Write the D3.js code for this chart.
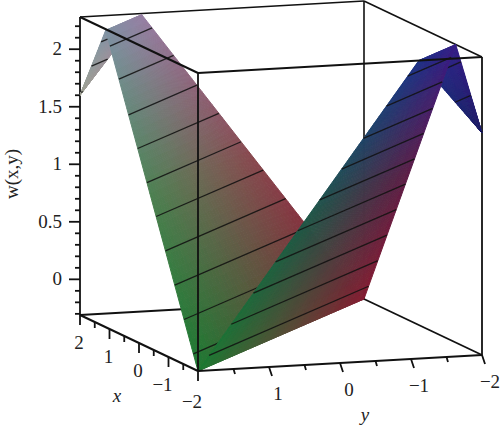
<!DOCTYPE html>
<html><head><meta charset="utf-8">
<style>html,body{margin:0;padding:0;background:#fff;overflow:hidden}
text{font-family:"Liberation Serif","Times New Roman",serif;fill:#222}</style>
<script src="https://cdn.jsdelivr.net/npm/d3@7"></script></head>
<body><svg id="c" width="500" height="428"></svg>
<script>
// surface profile: w as a piecewise-linear function of s = x + y
const sKnots = [-4, -3.11, 0, 3.13, 4];
const wKnots = [1.62, 2.28, -0.31, 2.27, 1.6];
// contour levels
const levels = [-0.18, 0.08, 0.34, 0.6, 0.86, 1.117, 1.375, 1.63, 1.9, 2.15];
const wTicks = [0, 0.5, 1, 1.5, 2];
const wMinor = [-0.3,-0.2,-0.1,0.1,0.2,0.3,0.4,0.6,0.7,0.8,0.9,1.1,1.2,1.3,1.4,1.6,1.7,1.8,1.9,2.1,2.2];
const xTicks = [2, 1, 0, -1, -2];
const xMinor = [1.5, 0.5, -0.5, -1.5];
const yTicks = [1, 0, -1, -2];
const yMinor = [1.5, 0.5, -0.5, -1.5];
const wDomain = [-0.31, 2.28];

const sx = d3.scaleLinear([-2,2],[0,-118]), sxy = d3.scaleLinear([-2,2],[0,-56]);
const yx = d3.scaleLinear([2,-2],[0,284]), yy = d3.scaleLinear([2,-2],[0,-16]);
const wy = d3.scaleLinear(wDomain,[0,-298]);
const X0 = 198, Y0 = 371;
const P = (x,y,w) => [X0+sx(x)+yx(y), Y0+sxy(x)+yy(y)+wy(w)];
const f = d3.scaleLinear(sKnots, wKnots);
const red = d3.scaleLinear([-2,2],[30,132]);
const green = d3.scaleLinear([-2,2],[30,122]);
const blue = d3.scaleLinear([-0.31,1,2.28],[50,72,135]);
const glow = d3.scaleLinear([-2,2],[0,1]);
const colour = (x,y,w) => {
  const k = 48*glow(x)*glow(y)*glow(x)*glow(y);
  return `rgb(${Math.round(red(x)+k*0.6)},${Math.round(green(y)+k*0.85)},${Math.round(blue(w)+k)})`;
};

const svg = d3.select('#c');
const defs = svg.append('defs');
defs.append('filter').attr('id','soft').attr('x','-5%').attr('y','-5%').attr('width','110%').attr('height','110%')
  .append('feGaussianBlur').attr('stdDeviation',0.7);
const line = d3.line();
const seg = (g,a,b,wd,col='#111',op=1)=>g.append('path').attr('d',line([a,b])).attr('stroke',col).attr('stroke-width',wd).attr('stroke-opacity',op).attr('fill','none');

// back box edges
const W0=wDomain[0], W1=wDomain[1];
const back = svg.append('g');
seg(back,P(2,2,W0),P(2,-2,W0),1.8);
seg(back,P(2,-2,W0),P(-2,-2,W0),1.8);
seg(back,P(2,-2,W0),P(2,-2,W1),1.6);
seg(back,P(2,2,W1),P(2,-2,W1),1.6);
seg(back,P(2,-2,W1),P(-2,-2,W1),1.6);
seg(back,P(2,2,W0),P(2,2,W1),1.8);
seg(back,P(-2,-2,W0),P(-2,-2,W1),1.8);

// end points of the straight line x+y=s inside the square
const ends = s => s>=0 ? [[s-2,2],[2,s-2]] : [[-2,s+2],[s+2,-2]];
const surf = svg.append('g').attr('filter','url(#soft)');
function panel(i){
  const s0=sKnots[i], s1=sKnots[i+1], N=44, M=44;
  const g = surf.append('g');
  const at=(a,b)=>{ const s=s0+(s1-s0)*a, [p,q]=ends(s); return [p[0]+(q[0]-p[0])*b,p[1]+(q[1]-p[1])*b,f(s)]; };
  for(let a=0;a<N;a++) for(let b=0;b<M;b++){
    const c=[at(a/N,b/M),at((a+1)/N,b/M),at((a+1)/N,(b+1)/M),at(a/N,(b+1)/M)];
    const m=at((a+.5)/N,(b+.5)/M), col=colour(m[0],m[1],m[2]);
    g.append('polygon').attr('points',c.map(d=>P(d[0],d[1],d[2]).join(',')).join(' '))
      .attr('fill',col).attr('stroke',col).attr('stroke-width',1).attr('stroke-linejoin','round');
  }
  const lo=Math.min(wKnots[i],wKnots[i+1]), hi=Math.max(wKnots[i],wKnots[i+1]);
  const inv=d3.scaleLinear([wKnots[i],wKnots[i+1]],[s0,s1]);
  levels.filter(l=>l>lo&&l<hi).forEach(l=>{
    const [p,q]=ends(inv(l));
    seg(g,P(p[0],p[1],l),P(q[0],q[1],l),1.3,'#111',0.85);
  });
}
[0,3,2,1].forEach(panel);

// front box edges and axes
const front = svg.append('g');
seg(front,P(-2,2,W0),P(-2,2,W1),1.8);
seg(front,P(2,2,W1),P(-2,2,W1),2);
seg(front,P(-2,2,W1),P(-2,-2,W1),2);
seg(front,P(2,2,W0),P(-2,2,W0),2);
seg(front,P(-2,2,W0),P(-2,-2,W0),2);

const labels = svg.append('g').attr('font-size',19);
wTicks.forEach(t=>{
  const p=P(2,2,t); seg(front,p,[p[0]-11,p[1]],1.8);
  labels.append('text').attr('x',p[0]-18).attr('y',p[1]+6).attr('text-anchor','end').text(t);
});
wMinor.forEach(t=>{const p=P(2,2,t); seg(front,p,[p[0]-5,p[1]],1.8);});
xTicks.forEach(t=>{
  const p=P(t,2,W0); seg(front,p,[p[0],p[1]+10],1.8);
  labels.append('text').attr('x',p[0]-1-(t<0?5:0)).attr('y',p[1]+34+(t==-2?3:0)).attr('text-anchor','middle').text(String(t).replace('-','\u2212'));
});
xMinor.forEach(t=>{const p=P(t,2,W0); seg(front,p,[p[0],p[1]+6],1.8);});
yTicks.forEach(t=>{
  const p=P(-2,t,W0); seg(front,p,[p[0]+3,p[1]+9],1.8);
  labels.append('text').attr('x',p[0]+9-(t<0?1:0)).attr('y',p[1]+33).attr('text-anchor','middle').text(String(t).replace('-','\u2212'));
});
yMinor.forEach(t=>{const p=P(-2,t,W0); seg(front,p,[p[0]+1.5,p[1]+5],1.8);});
labels.append('text').attr('transform','translate(18,174) rotate(-90)').attr('text-anchor','middle').text('w(x,y)');
labels.append('text').attr('x',117).attr('y',402).attr('text-anchor','middle').attr('font-style','italic').text('x');
labels.append('text').attr('x',365).attr('y',421).attr('text-anchor','middle').attr('font-style','italic').text('y');
</script></body></html>
